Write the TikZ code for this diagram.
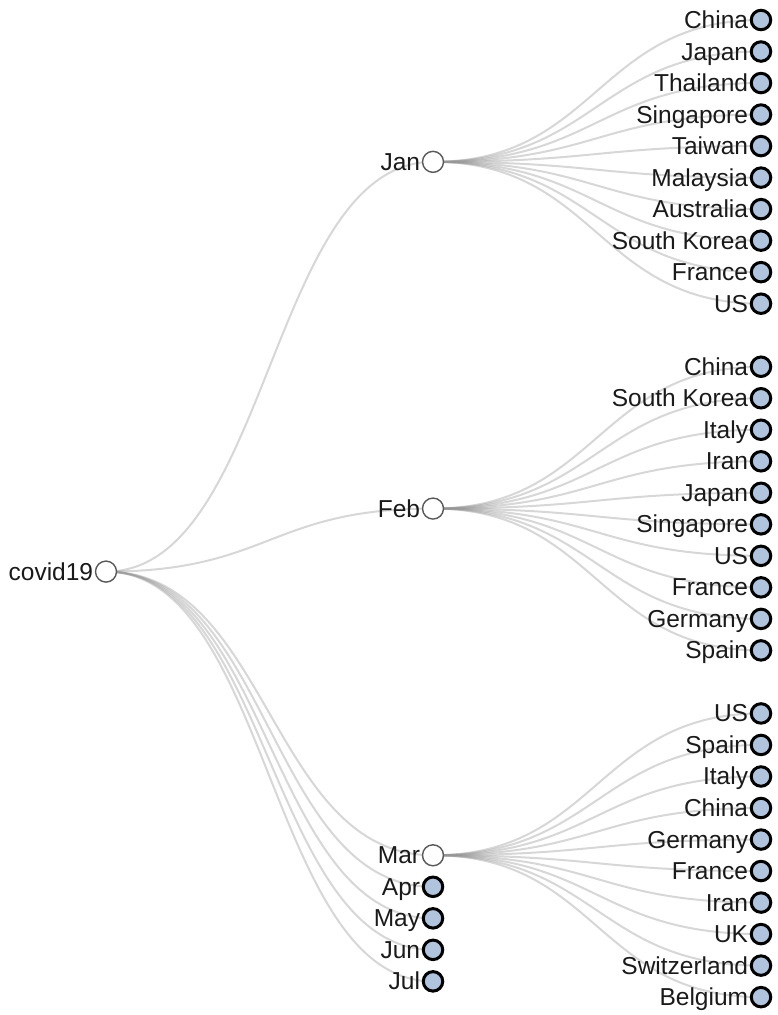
\documentclass[tikz,border=0pt]{standalone}
\usepackage{fontspec}
\setmainfont{Liberation Sans}
\usetikzlibrary{backgrounds}

\definecolor{leafblue}{RGB}{176,196,222}
\definecolor{linkgray}{RGB}{150,150,150}
\definecolor{textgray}{RGB}{26,26,26}

\tikzset{
  dot/.style={circle, inner sep=0pt},
  inner/.style={dot, minimum size=21pt, draw=black!65, line width=1.4pt, fill=white},
  leaf/.style={dot, minimum size=19.5pt, draw=black, line width=3pt, fill=leafblue},
  tag/.style={anchor=base east, yshift=-8.5pt, inner sep=0pt, text=textgray,
    font=\fontsize{24.5}{27}\selectfont},
  link/.style={draw=linkgray, line width=2pt, opacity=.38,
    to path={.. controls ([xshift=\halfgap]\tikztostart) and ([xshift=-\halfgap]\tikztotarget) .. (\tikztotarget)}},
  label distance=1.5pt
}

\begin{document}
\begin{tikzpicture}[x=1pt, y=-1pt]
  % Parameters
  \def\unit{31.52} % Vertical gap between siblings
  \def\firsty{20} % Row of the first leaf
  \def\rootx{106}
  \def\monthx{433}
  \def\leafx{761}
  \def\halfgap{163.5pt} % Half of the gap between two levels

  % Page
  \begin{scope}[on background layer]
    \fill[white] (0,0) rectangle (777,1015);
  \end{scope}
  \useasboundingbox (0,0) rectangle (777,1015);

  % Root
  \pgfmathsetmacro{\rooty}{\firsty + 17.5*\unit}
  \node[inner, label={[tag]left:covid19}] (covid) at (\rootx,\rooty) {};

  % Months with their top ten countries
  \foreach \m/\mlabel/\off/\countries in {
      jan/Jan/0/{China,Japan,Thailand,Singapore,Taiwan,Malaysia,Australia,South Korea,France,US},
      feb/Feb/11/{China,South Korea,Italy,Iran,Japan,Singapore,US,France,Germany,Spain},
      mar/Mar/22/{US,Spain,Italy,China,Germany,France,Iran,UK,Switzerland,Belgium}} {
    \pgfmathsetmacro{\ypos}{\firsty + (\off+4.5)*\unit}
    \node[inner, label={[tag]left:\mlabel}] (\m) at (\monthx,\ypos) {};
    \begin{scope}[on background layer]
      \draw[link] (covid.center) to (\m.center);
    \end{scope}
    \foreach \c [count=\k from 0] in \countries {
      \pgfmathsetmacro{\ypos}{\firsty + (\off+\k)*\unit}
      \node[leaf, label={[tag]left:\c}] (\m-\k) at (\leafx,\ypos) {};
      \begin{scope}[on background layer]
        \draw[link] (\m.center) to (\m-\k.center);
      \end{scope}
    }
  }

  % Months without children
  \foreach \m/\mlabel/\off in {apr/Apr/27.5, may/May/28.5, jun/Jun/29.5, jul/Jul/30.5} {
    \pgfmathsetmacro{\ypos}{\firsty + \off*\unit}
    \node[leaf, label={[tag]left:\mlabel}] (\m) at (\monthx,\ypos) {};
    \begin{scope}[on background layer]
      \draw[link] (covid.center) to (\m.center);
    \end{scope}
  }
\end{tikzpicture}
\end{document}
